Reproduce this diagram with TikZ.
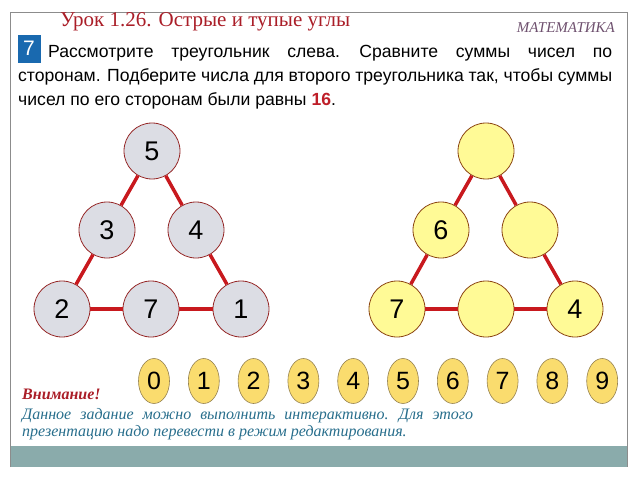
\documentclass[tikz,border=0pt]{standalone}
\usepackage{fontspec}
\setmainfont{Liberation Serif}
\setsansfont{Liberation Sans}
\usepackage{tikz}
\usetikzlibrary{shapes.geometric}

\definecolor{framegray}{RGB}{140,140,140}
\definecolor{bargray}{RGB}{138,171,171}
\definecolor{titlered}{RGB}{170,30,40}
\definecolor{mathpurple}{RGB}{110,80,110}
\definecolor{boxblue}{RGB}{25,105,175}
\definecolor{sumred}{RGB}{190,30,40}
\definecolor{grayfill}{RGB}{220,221,228}
\definecolor{grayedge}{RGB}{150,40,40}
\definecolor{yellowfill}{RGB}{255,250,150}
\definecolor{yellowedge}{RGB}{140,70,20}
\definecolor{linered}{RGB}{200,25,30}
\definecolor{chipfill}{RGB}{250,220,110}
\definecolor{chipedge}{RGB}{150,130,80}
\definecolor{noteblue}{RGB}{40,110,140}

\tikzset{
  graydisc/.style={circle, draw=grayedge, line width=0.8pt, fill=grayfill, minimum size=56pt,
    inner sep=0pt, font=\sffamily\fontsize{27}{27}\selectfont},
  yellowdisc/.style={circle, draw=yellowedge, line width=0.8pt, fill=yellowfill, minimum size=56pt,
    inner sep=0pt, font=\sffamily\fontsize{27}{27}\selectfont},
  chip/.style={ellipse, draw=chipedge, line width=0.6pt, fill=chipfill, minimum width=31pt,
    minimum height=45pt, inner sep=0pt, font=\sffamily\fontsize{25}{25}\selectfont},
  side/.style={draw=linered, line width=3.5pt},
  bodytext/.style={anchor=base west, inner sep=0pt, font=\sffamily\fontsize{17.6}{20}\selectfont},
  notetext/.style={anchor=base west, inner sep=0pt, text=noteblue, font=\itshape\fontsize{16}{16}\selectfont}
}

\begin{document}
\begin{tikzpicture}[x=1pt, y=-1pt]
  \useasboundingbox (0,0) rectangle (638,479);

  % frame and bottom bar
  \fill[bargray] (10,446) rectangle (627,467);
  \draw[framegray, line width=0.8pt] (10,467) -- (10,12) -- (627,12) -- (627,467);

  % heading
  \node[anchor=base west, inner sep=0pt, text=titlered, font=\fontsize{21}{21}\selectfont]
    (title) at (60,27) {Урок 1.26. Острые и тупые углы};
  \node[anchor=base east, inner sep=0pt, text=mathpurple, font=\itshape\fontsize{15}{15}\selectfont]
    (subject) at (615,32) {МАТЕМАТИКА};

  % task text
  \node[fill=boxblue, text=white, minimum width=23pt, minimum height=28pt, inner sep=0pt,
    font=\sffamily\fontsize{21}{21}\selectfont] (task) at (29,48.5) {7};
  \node[bodytext] (lineA) at (48,57) {\hbox to 564pt{Рассмотрите \hfill треугольник \hfill слева. \hfill
    Сравните \hfill суммы \hfill чисел \hfill по}};
  \node[bodytext] (lineB) at (18,81) {\hbox to 594pt{сторонам. \hfill Подберите \hfill числа \hfill для \hfill
    второго \hfill треугольника \hfill так, \hfill чтобы \hfill суммы}};
  \node[bodytext] (lineC) at (18,105) {чисел по его сторонам были равны \textcolor{sumred}{\bfseries 16}.};

  % left triangle
  \node[graydisc] (a5) at (152,151) {5};
  \node[graydisc] (a3) at (107,230) {3};
  \node[graydisc] (a4) at (196,230) {4};
  \node[graydisc] (a2) at (62,309) {2};
  \node[graydisc] (a7) at (151,309) {7};
  \node[graydisc] (a1) at (241,309) {1};
  \draw[side] (a5) -- (a3);
  \draw[side] (a3) -- (a2);
  \draw[side] (a2) -- (a7);
  \draw[side] (a7) -- (a1);
  \draw[side] (a1) -- (a4);
  \draw[side] (a4) -- (a5);

  % right triangle
  \node[yellowdisc] (b1) at (486,151) {};
  \node[yellowdisc] (b2) at (441,230) {6};
  \node[yellowdisc] (b3) at (530,230) {};
  \node[yellowdisc] (b4) at (397,309) {7};
  \node[yellowdisc] (b5) at (486,309) {};
  \node[yellowdisc] (b6) at (575,309) {4};
  \draw[side] (b1) -- (b2);
  \draw[side] (b2) -- (b4);
  \draw[side] (b4) -- (b5);
  \draw[side] (b5) -- (b6);
  \draw[side] (b6) -- (b3);
  \draw[side] (b3) -- (b1);

  % digit chips
  \foreach \d in {0,...,9}
    \node[chip] (chip\d) at (154+49.8*\d,381) {\d};

  % note
  \node[anchor=base west, inner sep=0pt, text=titlered, font=\bfseries\itshape\fontsize{16}{16}\selectfont]
    (warn) at (22,399) {Внимание!};
  \node[notetext] (noteA) at (22,419) {\hbox to 451pt{Данное \hfill задание \hfill можно \hfill выполнить \hfill
    интерактивно. \hfill Для \hfill этого}};
  \node[notetext] (noteB) at (22,436) {презентацию надо перевести в режим редактирования.};
\end{tikzpicture}
\end{document}
